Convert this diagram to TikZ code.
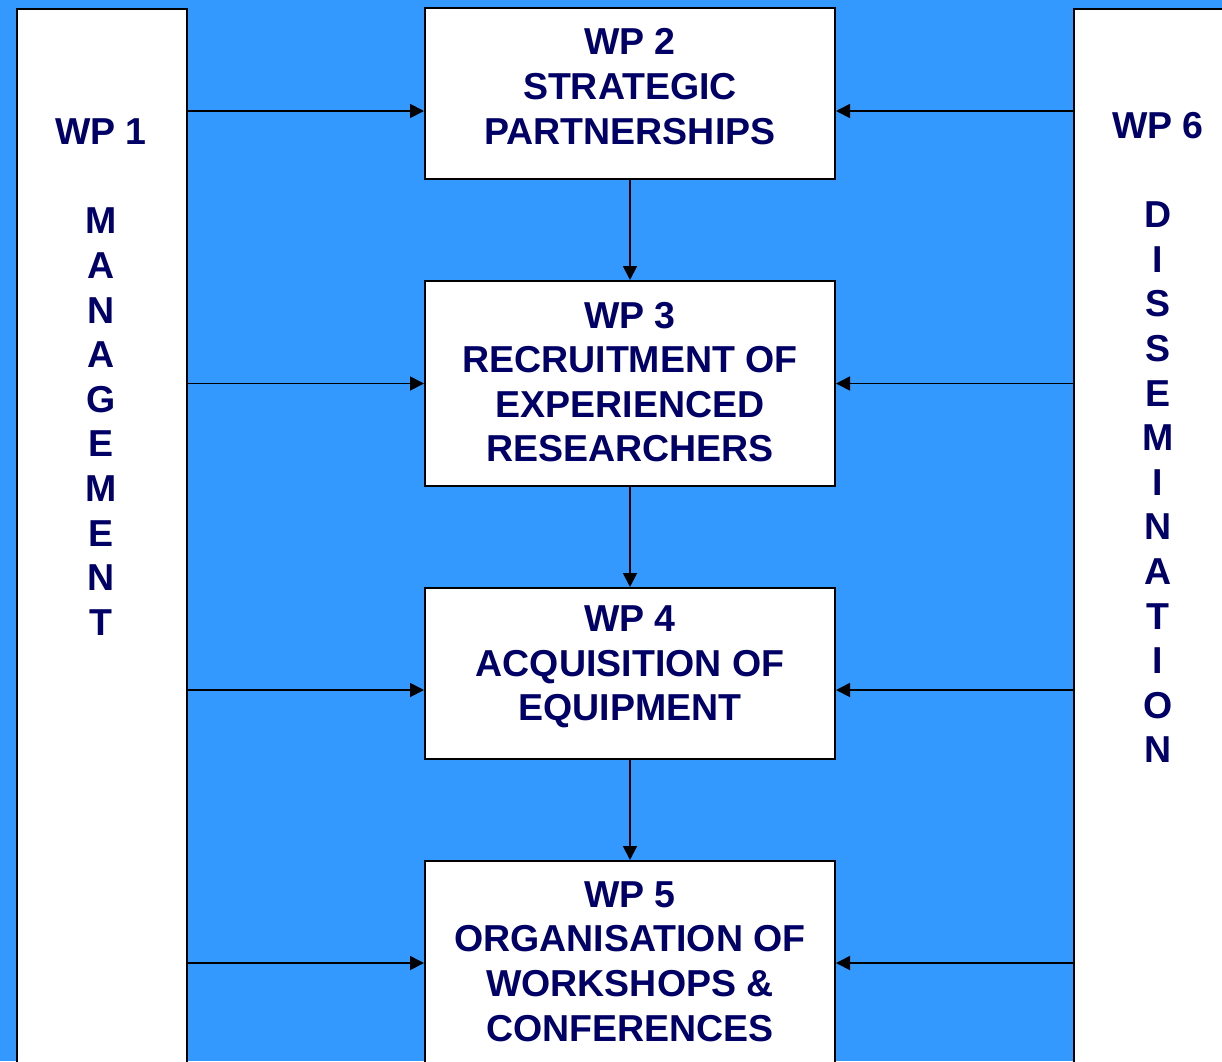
\documentclass[tikz,border=0pt]{standalone}
\usepackage{fontspec}
\setmainfont{Liberation Sans}
\usetikzlibrary{arrows.meta}
\definecolor{bgblue}{RGB}{51,153,255}
\definecolor{wpnavy}{RGB}{0,0,102}
\begin{document}
\begin{tikzpicture}[x=1pt,y=-1pt,
  panel/.style={draw=black, line width=2pt, fill=white, inner sep=0pt},
  wptext/.style={text=wpnavy, font=\fontsize{37.5}{44.6}\selectfont\bfseries, align=center, inner sep=0pt},
  flow/.style={draw=black, line width=1.8pt, -{Triangle[length=14pt,width=14pt]}}]
\useasboundingbox (0,0) rectangle (1222,1061);
\clip (0,0) rectangle (1222,1061);
\fill[bgblue] (0,0) rectangle (1222,1061);

% side columns
\node[panel, minimum width=170pt, minimum height=1100pt, anchor=north west] (wp1) at (16,8) {};
\node[panel, minimum width=170pt, minimum height=1100pt, anchor=north west] (wp6) at (1073,8) {};
\node[wptext] (t1) at (101,377) {WP 1\\[44.6pt]M\\A\\N\\A\\G\\E\\M\\E\\N\\T};
\node[wptext] (t6) at (1158,437.5) {WP 6\\[44.6pt]D\\I\\S\\S\\E\\M\\I\\N\\A\\T\\I\\O\\N};

% central work packages
\node[panel, minimum width=410pt, minimum height=171pt] (wp2) at (630,93.5) {};
\node[panel, minimum width=410pt, minimum height=205pt] (wp3) at (630,383.5) {};
\node[panel, minimum width=410pt, minimum height=171pt] (wp4) at (630,673.5) {};
\node[panel, minimum width=410pt, minimum height=210pt] (wp5) at (630,966) {};

\node[wptext] (t2) at (630,86.5) {WP 2\\STRATEGIC\\PARTNERSHIPS};
\node[wptext] (t3) at (630,382) {WP 3\\RECRUITMENT OF\\EXPERIENCED\\RESEARCHERS};
\node[wptext] (t4) at (630,667) {WP 4\\ACQUISITION OF\\EQUIPMENT};
\node[wptext] (t5) at (630,961.5) {WP 5\\ORGANISATION OF\\WORKSHOPS \&\\CONFERENCES};

% arrow entry points on the work packages
\coordinate (a2) at ([yshift=-17.5pt]wp2.west);
\coordinate (a3) at (wp3.west);
\coordinate (a4) at ([yshift=-16.5pt]wp4.west);
\coordinate (a5) at ([yshift=3pt]wp5.west);
\coordinate (b2) at ([yshift=-17.5pt]wp2.east);
\coordinate (b3) at (wp3.east);
\coordinate (b4) at ([yshift=-16.5pt]wp4.east);
\coordinate (b5) at ([yshift=3pt]wp5.east);

\foreach \n in {2,3,4,5} {
  \draw[flow] (wp1.east |- a\n) -- (a\n);
  \draw[flow] (wp6.west |- b\n) -- (b\n);
}

% sequence of work packages
\draw[flow] (wp2.south) -- (wp3.north);
\draw[flow] (wp3.south) -- (wp4.north);
\draw[flow] (wp4.south) -- (wp5.north);
\end{tikzpicture}
\end{document}
